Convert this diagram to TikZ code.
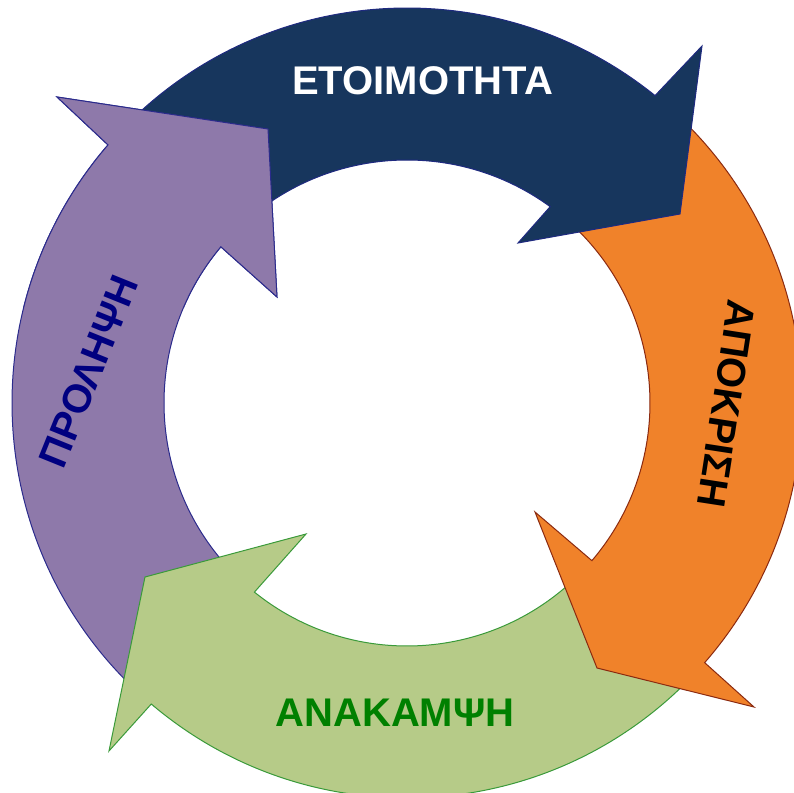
\documentclass[tikz,border=0pt]{standalone}
\usepackage{fontspec}
\setmainfont{Liberation Sans}
\definecolor{bluefill}{HTML}{17365D}
\definecolor{bluedraw}{HTML}{1F2A80}
\definecolor{orangefill}{HTML}{F0822A}
\definecolor{orangedraw}{HTML}{8B2A10}
\definecolor{greenfill}{HTML}{B6CB88}
\definecolor{greendraw}{HTML}{3A9A3A}
\definecolor{purplefill}{HTML}{8E79AA}
\definecolor{purpledraw}{HTML}{2B2B8C}
\definecolor{greentext}{HTML}{008000}
\definecolor{navytext}{HTML}{000080}
\newcommand\purplearrowpath{%
  \path[arrowshape, fill=purplefill, draw=purpledraw]
    (226:395pt) arc[start angle=226, end angle=139.2, radius=395pt]
    -- (-350,306) -- (-139,274) -- (-130,106) -- (140:243pt)
    arc[start angle=140, end angle=226, radius=243pt] -- cycle;}
\begin{document}
\begin{tikzpicture}[x=1pt,y=1pt,
  arrowshape/.style={line width=1pt, line join=miter},
  lbl/.style={font=\fontsize{40}{48}\selectfont\bfseries, inner sep=0pt}]
\useasboundingbox (-407,-389) rectangle (387,403);
% purple (PROLHPSH)
\purplearrowpath
% green (ANAKAMPSH)
\path[arrowshape, fill=greenfill, draw=greendraw]
  (-44:395pt) arc[start angle=-44, end angle=-130.35, radius=395pt]
  -- (-298,-348) -- (-262,-174) -- (-101,-131) -- (-128.9:243pt)
  arc[start angle=-128.9, end angle=-44, radius=243pt] -- cycle;
% orange (APOKRISH)
\path[arrowshape, fill=orangefill, draw=orangedraw]
  (47:395pt) arc[start angle=47, end angle=-41.1, radius=395pt]
  -- (347,-304) -- (190,-265) -- (128,-109) -- (-40.45:243pt)
  arc[start angle=-40.45, end angle=47, radius=243pt] -- cycle;
% blue (ETOIMOTHTA)
\path[arrowshape, fill=bluefill, draw=bluedraw]
  (135:395pt) arc[start angle=135, end angle=51.1, radius=395pt]
  -- (295,357) -- (273,189) -- (111,160) -- (53.9:243pt)
  arc[start angle=53.9, end angle=135, radius=243pt] -- cycle;
% purple head on top of blue tail
\begin{scope}
  \clip (-407,95) rectangle (-105,403);
  \purplearrowpath
\end{scope}
% labels
\node[lbl, text=white] (t1) at (15.6,322) {ΕΤΟΙΜΟΤΗΤΑ};
\node[lbl, text=black, rotate=-98.8] (t2) at (319.5,-1) {ΑΠΟΚΡΙΣΗ};
\node[lbl, text=greentext] (t3) at (-12,-309.5) {ΑΝΑΚΑΜΨΗ};
\node[lbl, text=navytext, rotate=68] (t4) at (-318.5,31.5) {ΠΡΟΛΗΨΗ};
\end{tikzpicture}
\end{document}
